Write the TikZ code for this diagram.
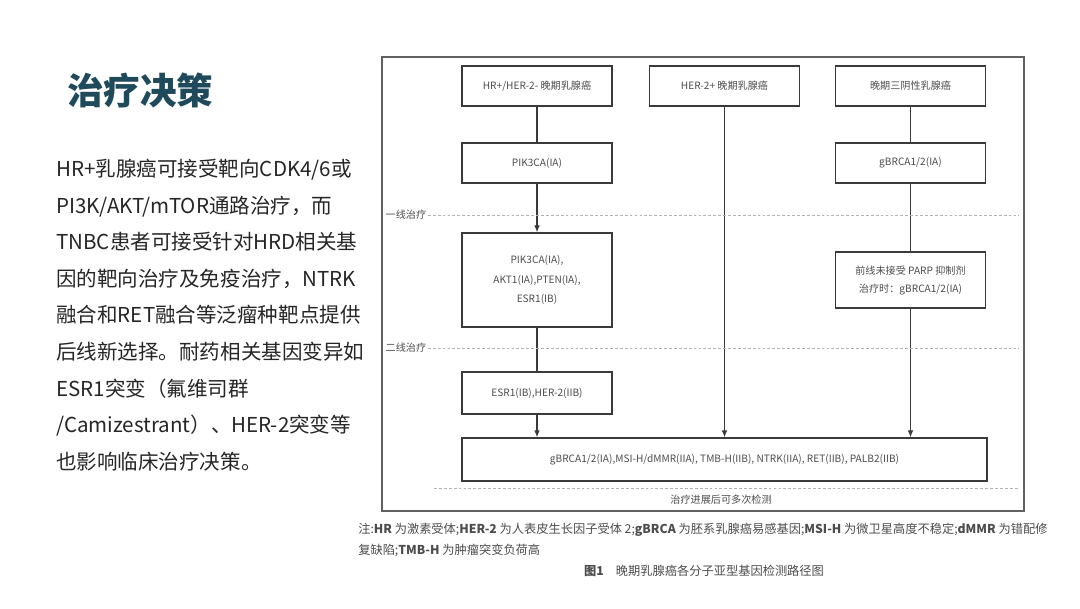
\documentclass[tikz,border=0pt]{standalone}
\usepackage{fontspec}
\setmainfont{Noto Sans CJK SC}
\usetikzlibrary{arrows.meta}
\definecolor{titleblue}{HTML}{1F4A5C}
\definecolor{bodygray}{HTML}{262626}
\definecolor{figgray}{HTML}{4D4D4D}
\definecolor{linegray}{HTML}{3A3A3A}
\begin{document}
\begin{tikzpicture}[x=.025cm,y=-.025cm,>={Latex[length=5pt,width=4pt]},
  box/.style={draw=linegray,line width=.9pt,minimum width=3.75cm,minimum height=1cm,
    align=center,text=figgray,font=\fontsize{7.2}{14}\selectfont,inner sep=1pt},
  link/.style={draw=linegray,line width=.8pt},
  sep/.style={draw=gray!60,dash pattern=on 2pt off 1.5pt,line width=.4pt},
  lab/.style={text=figgray,font=\fontsize{7.2}{9}\selectfont,inner sep=1pt},
  note/.style={text=figgray,font=\fontsize{8.7}{11}\selectfont,inner sep=0pt}]
  \useasboundingbox[fill=white] (0,0) rectangle (1080,608);
  \node[anchor=west,text=titleblue,font=\fontsize{26}{30}\selectfont\bfseries,inner sep=0pt] (title) at (67,90) {治疗决策};
  \node[anchor=north west,align=left,text=bodygray,font=\fontsize{14.6}{26}\selectfont,inner sep=0pt] (body) at (56,159)
    {HR+乳腺癌可接受靶向CDK4/6或\\PI3K/AKT/mTOR通路治疗，而\\TNBC患者可接受针对HRD相关基\\因的靶向治疗及免疫治疗，NTRK\\融合和RET融合等泛瘤种靶点提供\\后线新选择。耐药相关基因变异如\\ESR1突变（氟维司群\\/Camizestrant）、HER-2突变等\\也影响临床治疗决策。};
  \node[draw=linegray!80,line width=1.2pt,minimum width=16.05cm,minimum height=11.35cm,inner sep=0pt] (frame) at (703,284) {};
  \node[box] (hr) at (537,86) {HR+/HER-2- 晚期乳腺癌};
  \node[box] (her) at (724.5,86) {HER-2+ 晚期乳腺癌};
  \node[box] (tn) at (910.5,86) {晚期三阴性乳腺癌};
  \node[box] (pik) at (537,163) {PIK3CA(IA)};
  \node[box] (gb) at (910.5,163) {gBRCA1/2(IA)};
  \node[box,minimum height=2.35cm] (akt) at (537,280) {PIK3CA(IA),\\AKT1(IA),PTEN(IA),\\ESR1(IB)};
  \node[box,minimum height=1.4cm,font=\fontsize{7.2}{12.8}\selectfont] (parp) at (910.5,280) {前线未接受 PARP 抑制剂\\治疗时：gBRCA1/2(IA)};
  \node[box,minimum height=1.05cm] (esr) at (537,393) {ESR1(IB),HER-2(IIB)};
  \node[box,minimum width=13.125cm,minimum height=1.075cm] (all) at (724.5,459.5)
    {gBRCA1/2(IA),MSI-H/dMMR(IIA), TMB-H(IIB), NTRK(IIA), RET(IIB), PALB2(IIB)};
  \draw[link] (hr) -- (pik);
  \draw[link,->] (pik) -- (akt);
  \draw[link] (akt) -- (esr);
  \draw[link,->] (esr) -- (esr |- all.north);
  \draw[link,->] (her) -- (her |- all.north);
  \draw[link] (tn) -- (gb);
  \draw[link] (gb) -- (parp);
  \draw[link,->] (parp) -- (parp |- all.north);
  \node[lab,anchor=west] (first) at (384,215) {一线治疗};
  \node[lab,anchor=west] (second) at (384,348) {二线治疗};
  \draw[sep,shorten >=4pt] (first.east) -- (first.east -| frame.east);
  \draw[sep,shorten >=4pt] (second.east) -- (second.east -| frame.east);
  \coordinate (last) at (434,488);
  \draw[sep,shorten >=4pt] (last) -- (last -| frame.east);
  \node[lab] (more) at (721,500) {治疗进展后可多次检测};
  \node[note,anchor=west] (note1) at (358,530) {注:\textbf{HR} 为激素受体;\textbf{HER-2} 为人表皮生长因子受体 2;\textbf{gBRCA} 为胚系乳腺癌易感基因;\textbf{MSI-H} 为微卫星高度不稳定;\textbf{dMMR} 为错配修};
  \node[note,anchor=west] (note2) at (358,550) {复缺陷;\textbf{TMB-H} 为肿瘤突变负荷高};
  \node[note] (cap) at (704,571) {\textbf{图1}\quad 晚期乳腺癌各分子亚型基因检测路径图};
\end{tikzpicture}
\end{document}
